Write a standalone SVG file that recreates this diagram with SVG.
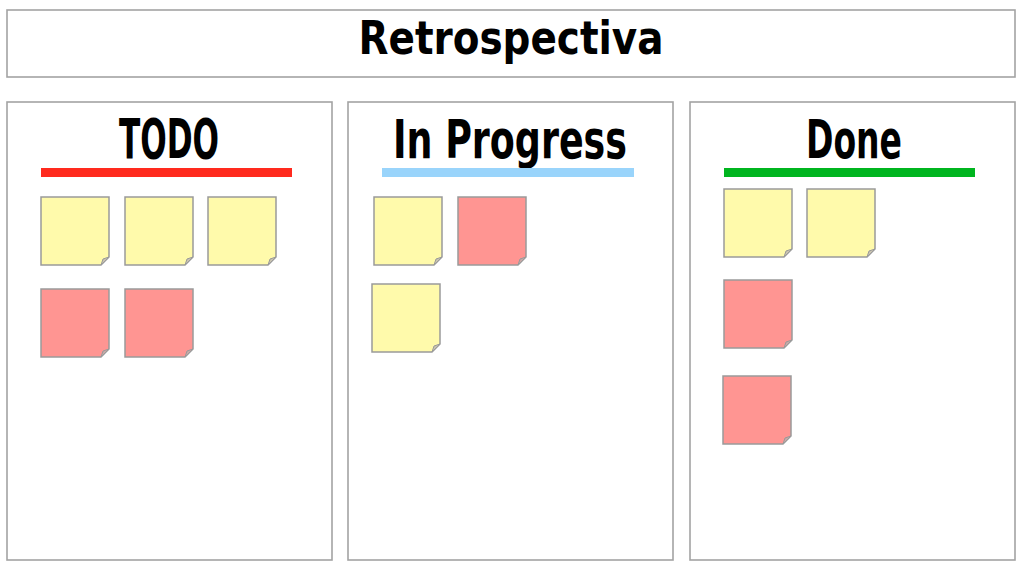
<svg xmlns="http://www.w3.org/2000/svg" width="1024" height="569" viewBox="0 0 1024 569">
<style>
.box{fill:#fff;stroke:#a3a3a3;stroke-width:1.6}
.hd{font-family:"Liberation Sans Narrow","DejaVu Sans Condensed","Liberation Sans",sans-serif;font-weight:bold;fill:#000;text-anchor:middle}
.y{fill:#fffaab;stroke:#9a9a9a;stroke-width:1.5}
.r{fill:#ff9592;stroke:#9a9a9a;stroke-width:1.5}
.fold{fill:#c9c3b0;stroke:#9a9a9a;stroke-width:1}
</style>
<defs>
<g id="sy"><path class="y" d="M0,0H68V60L60,68H0Z"/><path class="fold" d="M60,68L62,62L68,60Z"/></g>
<g id="sr"><path class="r" d="M0,0H68V60L60,68H0Z"/><path class="fold" d="M60,68L62,62L68,60Z" style="fill:#c8a8a6"/></g>
</defs>
<rect width="1024" height="569" fill="#fff"/>
<g id="title">
<rect class="box" x="7" y="10" width="1008" height="67"/>
<text class="hd" x="511" y="54" font-size="46" textLength="305" lengthAdjust="spacingAndGlyphs">Retrospectiva</text>
</g>
<g id="todo">
<rect class="box" x="7" y="102" width="325" height="458"/>
<text class="hd" x="169" y="158" font-size="56" textLength="100" lengthAdjust="spacingAndGlyphs">TODO</text>
<rect x="41" y="168" width="251" height="9" fill="#ff2a1e"/>
<use href="#sy" x="41" y="197"/>
<use href="#sy" x="125" y="197"/>
<use href="#sy" x="208" y="197"/>
<use href="#sr" x="41" y="289"/>
<use href="#sr" x="125" y="289"/>
</g>
<g id="inprogress">
<rect class="box" x="348" y="102" width="325" height="458"/>
<text class="hd" x="510" y="158" font-size="54" textLength="234" lengthAdjust="spacingAndGlyphs">In Progress</text>
<rect x="382" y="168" width="252" height="9" fill="#99d4fb"/>
<use href="#sy" x="374" y="197"/>
<use href="#sr" x="458" y="197"/>
<use href="#sy" x="372" y="284"/>
</g>
<g id="done">
<rect class="box" x="690" y="102" width="325" height="458"/>
<text class="hd" x="854" y="158" font-size="54" textLength="96" lengthAdjust="spacingAndGlyphs">Done</text>
<rect x="724" y="168" width="251" height="9" fill="#00b51f"/>
<use href="#sy" x="724" y="189"/>
<use href="#sy" x="807" y="189"/>
<use href="#sr" x="724" y="280"/>
<use href="#sr" x="723" y="376"/>
</g>
<g id="connectors"/>
</svg>
